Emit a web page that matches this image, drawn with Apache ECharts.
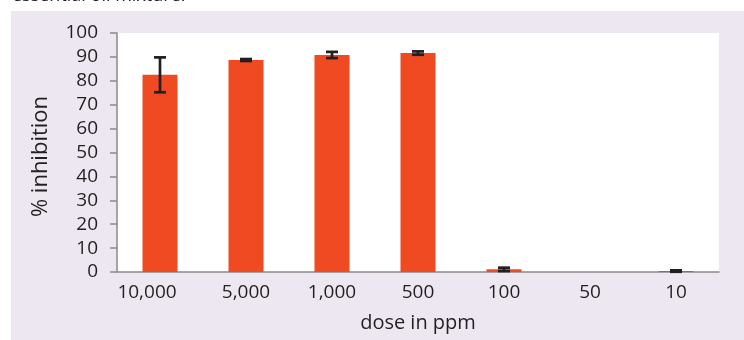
<!DOCTYPE html>
<html><head><meta charset="utf-8">
<script src="https://cdn.jsdelivr.net/npm/echarts@6/dist/echarts.min.js"></script>
<style>html,body{margin:0;padding:0;background:#fff}#c{width:744px;height:340px}</style>
</head><body><div id="c"></div>
<script>
const categories = ['10,000','5,000','1,000','500','100','50','10'];
const values = [82.5, 88.7, 90.8, 91.6, 1.1, 0, 0.4];
const errors = [7.3, 0.4, 1.3, 0.7, 0.7, 0, 0.3];
const yTicks = {min:0, max:100, interval:10};
const FONT = '"Open Sans", "Noto Sans", sans-serif';
const TXT = '#231f20';
const chart = echarts.init(document.getElementById('c'));
chart.setOption({
  animation:false,
  backgroundColor:'#fff',
  graphic:[
    {type:'rect', z:-10, shape:{x:11,y:11,width:733,height:329}, style:{fill:'#ede7f2'}},
    {type:'rect', z:-9, shape:{x:117,y:33,width:602,height:239}, style:{fill:'#ffffff'}},
    {type:'text', left:12, top:-13, style:{text:'essential oil mixture.', font:'18px '+FONT, fill:TXT}}
  ],
  grid:{left:117, right:25, top:33, bottom:68},
  xAxis:{type:'category',
    data:categories.map((c,i)=> i===0 ? {value:c, textStyle:{padding:[0,26,0,0]}} : c),
    boundaryGap:true,
    axisLine:{lineStyle:{color:'#8a8a8a', width:1.5}},
    axisTick:{length:6, lineStyle:{color:'#8a8a8a', width:1.5}},
    axisLabel:{color:TXT, fontSize:19, fontFamily:FONT, margin:11},
    name:'dose in ppm', nameLocation:'middle', nameGap:41,
    nameTextStyle:{color:TXT, fontSize:20, fontFamily:FONT}},
  yAxis:{type:'value', min:yTicks.min, max:yTicks.max, interval:yTicks.interval,
    axisLine:{show:true, lineStyle:{color:'#8a8a8a', width:1.5}},
    axisTick:{show:true, length:7, lineStyle:{color:'#8a8a8a', width:1.5}},
    splitLine:{show:false},
    axisLabel:{color:TXT, fontSize:19, fontFamily:FONT, margin:19},
    name:'% inhibition', nameLocation:'middle', nameGap:65, nameRotate:90,
    nameTextStyle:{color:TXT, fontSize:22, fontFamily:FONT, padding:[0,8,0,0]}},
  series:[
    {type:'bar', data:values, barWidth:35, itemStyle:{color:'#f04a23'}},
    {type:'custom', z:5,
      data:values.map((v,i)=>[i, v-errors[i], v+errors[i]]),
      renderItem:function(params, api){
        if (errors[params.dataIndex] === 0) return null;
        const lo = api.coord([api.value(0), api.value(1)]);
        const hi = api.coord([api.value(0), api.value(2)]);
        const x = lo[0], hw = 6;
        const st = {stroke:'#231f20', lineWidth:2.7};
        return {type:'group', children:[
          {type:'line', shape:{x1:x,y1:lo[1],x2:x,y2:hi[1]}, style:st},
          {type:'line', shape:{x1:x-hw,y1:lo[1],x2:x+hw,y2:lo[1]}, style:st},
          {type:'line', shape:{x1:x-hw,y1:hi[1],x2:x+hw,y2:hi[1]}, style:st}
        ]};
      }}
  ]
});
</script></body></html>
